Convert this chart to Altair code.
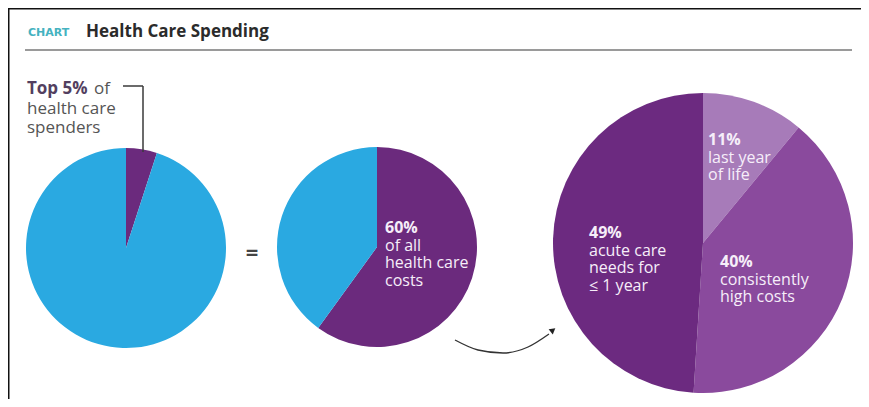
import altair as alt
import pandas as pd

FONT = "Open Sans"

# ---- data ----
pie1_segments = ["Top 5% of spenders", "Other 95% of spenders"]
pie1_values = [5, 95]
pie2_segments = ["Costs of top 5%", "Costs of other 95%"]
pie2_values = [60, 40]
pie3_segments = ["Last year of life", "Consistently high costs", "Acute care needs for ≤ 1 year"]
pie3_values = [11, 40, 49]

all_segments = pie1_segments + pie2_segments + pie3_segments
all_colors = ["#6b2a7d", "#2aa9e1", "#6b2a7d", "#2aa9e1", "#a77bb9", "#8a4a9d", "#6c2a80"]

kicker = "CHART"
title = "Health Care Spending"
left_bold = "Top 5%"
left_of = "of"
left_rest = "health care\nspenders"
pie2_pct = "60%"
pie2_text = "of all\nhealth care\ncosts"
pie3_pcts = ["11%", "40%", "49%"]
pie3_texts = ["last year\nof life", "consistently\nhigh costs", "acute care\nneeds for\n≤ 1 year"]

color_scale = alt.Scale(domain=all_segments, range=all_colors)


def pie(segs, vals, cx, cy, r):
    df = pd.DataFrame({"segment": segs, "value": vals, "order": list(range(len(segs)))})
    return alt.Chart(df).mark_arc(radius=r, strokeWidth=0).encode(
        theta=alt.Theta("value:Q", stack=True),
        color=alt.Color("segment:N", scale=color_scale, legend=None),
        order=alt.Order("order:Q"),
        x=alt.value(cx),
        y=alt.value(cy),
    )


def txt(s, x, y, size, weight, color, lh=17.5, align="left", font=FONT):
    df = pd.DataFrame({"t": [s]})
    return alt.Chart(df).mark_text(
        align=align, baseline="alphabetic", fontSize=size, fontWeight=weight,
        color=color, font=font, lineBreak="\n", lineHeight=lh,
    ).encode(x=alt.value(x), y=alt.value(y), text="t:N")


def rule(x, y, x2=None, y2=None, color="#3a3a3a", w=1.5):
    enc = dict(x=alt.value(x), y=alt.value(y))
    if x2 is not None:
        enc["x2"] = alt.value(x2)
    if y2 is not None:
        enc["y2"] = alt.value(y2)
    return alt.Chart(pd.DataFrame({"a": [0]})).mark_rule(color=color, strokeWidth=w).encode(**enc)


white = "#f6eef9"
body = 16
W, H = 853, 391

layers = [
    # border (top and left only)
    rule(0, 0.5, x2=W, color="#111111", w=2),
    rule(0.5, 0, y2=H, color="#111111", w=2),
    # title
    txt(kicker, 20, 28, 11, "bold", "#45b2c0", font="DejaVu Sans"),
    txt(title, 78, 29, 17, "bold", "#2b2b2b"),
    rule(17, 42, x2=844, color="#9a9a9a", w=2),
    # pies
    pie(pie1_segments, pie1_values, 118, 240, 100),
    pie(pie2_segments, pie2_values, 369, 239, 100),
    pie(pie3_segments, pie3_values, 695, 235, 150),
    # left label + leader
    txt(left_bold, 19, 86, 17, "bold", "#533f60"),
    txt(left_of, 86, 86, 17, "normal", "#555555"),
    txt(left_rest, 19, 105.5, 17, "normal", "#555555", lh=19.5),
    rule(115, 78, x2=135),
    rule(135, 78, y2=144),
    # equals
    txt("=", 244, 252, 22, "bold", "#444444", align="center"),
    # pie 2 labels
    txt(pie2_pct, 377, 225, body, "bold", white),
    txt(pie2_text, 377, 242.5, body, "normal", white),
    # pie 3 labels
    txt(pie3_pcts[0], 700, 137, body, "bold", white),
    txt(pie3_texts[0], 700, 154.5, body, "normal", white),
    txt(pie3_pcts[1], 712, 259, body, "bold", white),
    txt(pie3_texts[1], 712, 276.5, body, "normal", white),
    txt(pie3_pcts[2], 581, 230, body, "bold", white),
    txt(pie3_texts[2], 581, 247.5, body, "normal", white),
]

# curved arrow (decoration)
arrow_df = pd.DataFrame({"px": [447, 470, 495, 520, 541], "py": [332, 342, 345, 339, 326]})
arrow = alt.Chart(arrow_df).mark_line(color="#333333", strokeWidth=1.3, interpolate="monotone").encode(
    x=alt.X("px:Q", scale=None), y=alt.Y("py:Q", scale=None)
)
head = alt.Chart(pd.DataFrame({"a": [0]})).mark_point(
    shape="triangle-up", filled=True, color="#222222", size=45, angle=52, opacity=1
).encode(x=alt.value(545), y=alt.value(322))
layers += [arrow, head]

chart = alt.layer(*layers).properties(
    width=W, height=H, padding=0, background="white",
    autosize=alt.AutoSizeParams(type="none"),
).configure_view(strokeWidth=0, strokeOpacity=0)

chart.save("out.html", embed_options={"renderer": "svg", "actions": False})
